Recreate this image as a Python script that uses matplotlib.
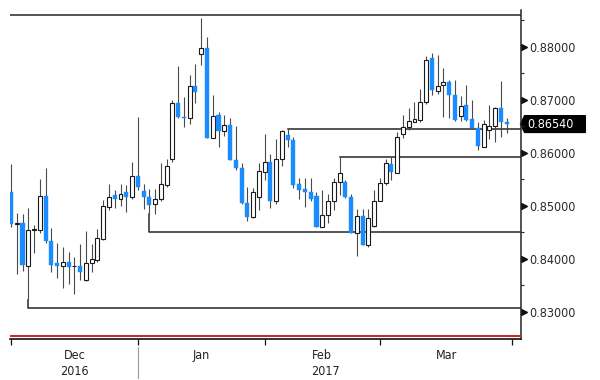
import matplotlib
matplotlib.use("Agg")
import matplotlib.pyplot as plt
import matplotlib.transforms as mtransforms
from matplotlib.patches import Polygon
import pandas as pd

plt.rcParams['font.family'] = ['DejaVu Sans']
plt.rcParams['font.stretch'] = 'condensed'

# daily candles, Dec 2016 - Mar 2017 (weekdays)
dates = pd.bdate_range('2016-12-01', '2017-03-31')

opens = [0.8525, 0.8466, 0.8467, 0.8387, 0.8455, 0.8454, 0.8518, 0.8433, 0.8391, 0.8387,
         0.8394, 0.8386, 0.8387, 0.8360, 0.8391, 0.8398, 0.8437, 0.8498, 0.8520, 0.8512,
         0.8525, 0.8516, 0.8556, 0.8528, 0.8516, 0.8503, 0.8512, 0.8539, 0.8589, 0.8694,
         0.8668, 0.8665, 0.8726, 0.8786, 0.8798, 0.8628, 0.8671, 0.8641, 0.8652, 0.8587,
         0.8572, 0.8506, 0.8478, 0.8516, 0.8564, 0.8583, 0.8508, 0.8588, 0.8633, 0.8623,
         0.8541, 0.8531, 0.8526, 0.8518, 0.8460, 0.8482, 0.8508, 0.8545, 0.8545, 0.8517,
         0.8449, 0.8481, 0.8426, 0.8462, 0.8508, 0.8542, 0.8579, 0.8562, 0.8635, 0.8648,
         0.8658, 0.8661, 0.8695, 0.8778, 0.8717, 0.8727, 0.8734, 0.8709, 0.8669, 0.8690,
         0.8663, 0.8647, 0.8611, 0.8643, 0.8650, 0.8684, 0.8658]
highs = [0.8579, 0.8487, 0.8484, 0.8495, 0.8464, 0.8550, 0.8572, 0.8457, 0.8430, 0.8422,
         0.8413, 0.8403, 0.8428, 0.8452, 0.8428, 0.8456, 0.8511, 0.8540, 0.8530, 0.8540,
         0.8539, 0.8583, 0.8668, 0.8541, 0.8531, 0.8531, 0.8581, 0.8589, 0.8699, 0.8763,
         0.8706, 0.8747, 0.8767, 0.8854, 0.8818, 0.8708, 0.8677, 0.8672, 0.8665, 0.8650,
         0.8580, 0.8535, 0.8533, 0.8580, 0.8635, 0.8598, 0.8625, 0.8643, 0.8645, 0.8630,
         0.8552, 0.8552, 0.8552, 0.8526, 0.8530, 0.8523, 0.8552, 0.8591, 0.8549, 0.8522,
         0.8493, 0.8493, 0.8493, 0.8530, 0.8552, 0.8588, 0.8591, 0.8639, 0.8671, 0.8684,
         0.8696, 0.8720, 0.8782, 0.8788, 0.8784, 0.8759, 0.8737, 0.8737, 0.8707, 0.8728,
         0.8699, 0.8657, 0.8662, 0.8690, 0.8687, 0.8736, 0.8665]
lows = [0.8459, 0.8372, 0.8377, 0.8322, 0.8410, 0.8448, 0.8429, 0.8374, 0.8364, 0.8344,
        0.8352, 0.8333, 0.8360, 0.8358, 0.8375, 0.8394, 0.8435, 0.8491, 0.8495, 0.8499,
        0.8489, 0.8512, 0.8529, 0.8493, 0.8484, 0.8484, 0.8509, 0.8536, 0.8582, 0.8665,
        0.8648, 0.8655, 0.8694, 0.8765, 0.8628, 0.8627, 0.8611, 0.8632, 0.8586, 0.8567,
        0.8504, 0.8472, 0.8476, 0.8492, 0.8548, 0.8495, 0.8504, 0.8575, 0.8611, 0.8533,
        0.8512, 0.8497, 0.8508, 0.8459, 0.8459, 0.8468, 0.8492, 0.8520, 0.8514, 0.8448,
        0.8405, 0.8426, 0.8423, 0.8460, 0.8508, 0.8539, 0.8549, 0.8561, 0.8627, 0.8643,
        0.8657, 0.8657, 0.8692, 0.8709, 0.8711, 0.8668, 0.8665, 0.8660, 0.8660, 0.8660,
        0.8646, 0.8606, 0.8611, 0.8625, 0.8621, 0.8629, 0.8638]
closes = [0.8466, 0.8467, 0.8389, 0.8454, 0.8456, 0.8518, 0.8433, 0.8388, 0.8387, 0.8393,
          0.8385, 0.8386, 0.8374, 0.8392, 0.8399, 0.8439, 0.8499, 0.8517, 0.8512, 0.8522,
          0.8516, 0.8556, 0.8535, 0.8516, 0.8501, 0.8512, 0.8541, 0.8574, 0.8694, 0.8667,
          0.8665, 0.8725, 0.8715, 0.8798, 0.8628, 0.8669, 0.8641, 0.8652, 0.8586, 0.8572,
          0.8506, 0.8479, 0.8525, 0.8565, 0.8583, 0.8508, 0.8588, 0.8640, 0.8623, 0.8539,
          0.8530, 0.8525, 0.8512, 0.8460, 0.8482, 0.8508, 0.8545, 0.8561, 0.8516, 0.8449,
          0.8481, 0.8426, 0.8476, 0.8508, 0.8542, 0.8580, 0.8563, 0.8630, 0.8648, 0.8660,
          0.8663, 0.8695, 0.8775, 0.8718, 0.8725, 0.8734, 0.8709, 0.8662, 0.8688, 0.8662,
          0.8647, 0.8613, 0.8655, 0.8650, 0.8684, 0.8658, 0.8654]

# drawn support / resistance levels: start candle, which end of candle, level
level_start = [3, 24, 48, 57]
level_from = ['low', 'low', 'high', 'high']
level_value = [0.8307, 0.8451, 0.8645, 0.8591]
top_level = 0.8859

y_ticks = [0.83, 0.84, 0.85, 0.86, 0.87, 0.88]
y_minor = [0.835, 0.845, 0.855, 0.865, 0.875, 0.885]

BLUE = '#1a8cff'
DARK = '#262626'

fig = plt.figure(figsize=(6, 3.8), dpi=100)
ax = fig.add_axes([10 / 600, 41 / 380, 510.5 / 600, 329 / 380])

n = len(closes)
xs = list(range(n))

# wicks
ax.vlines(xs, lows, highs, color='#4a4a4a', lw=0.8, zorder=2)

# bodies
for i in xs:
    o, c = opens[i], closes[i]
    bot = min(o, c)
    h = max(abs(c - o), 0.00004)
    if c >= o:
        ax.bar(i, h, bottom=bot, width=0.68, facecolor='white', edgecolor='#1a1a1a',
               linewidth=0.8, zorder=3)
    else:
        ax.bar(i, h, bottom=bot, width=0.7, facecolor=BLUE, edgecolor=BLUE,
               linewidth=0.3, zorder=3)

# level lines
ax.axhline(top_level, color=DARK, lw=1.1, zorder=1)
for s, f, lv in zip(level_start, level_from, level_value):
    anchor = lows[s] if f == 'low' else highs[s]
    ax.plot([s, s, n + 5], [anchor, lv, lv], color=DARK, lw=1.1, zorder=1)

ax.set_xlim(-0.17, 88.39)
ax.set_ylim(0.82485, 0.88692)

# bottom red rule just above the axis line
ax.axhline(0.82485 + 0.0005, color='#d42020', lw=1.4, zorder=4)

for side in ['left', 'top']:
    ax.spines[side].set_visible(False)
ax.spines['right'].set_color(DARK)
ax.spines['right'].set_linewidth(1.1)
ax.spines['bottom'].set_color('#111111')
ax.spines['bottom'].set_linewidth(1.2)

# right price axis
ax.yaxis.tick_right()
ax.set_yticks(y_ticks)
ax.set_yticklabels([f'{v:.5f}' for v in y_ticks], fontsize=9, color='#2a2a2a')
ax.set_yticks(y_minor, minor=True)
ax.tick_params(axis='y', which='major', length=0, pad=6.5)
ax.tick_params(axis='y', which='minor', length=2, width=0.8, color=DARK, direction='out')
trans_y = mtransforms.blended_transform_factory(ax.transAxes, ax.transData)
ax.plot([1.007] * len(y_ticks), y_ticks, linestyle='none', marker='>', markersize=4,
        color='#111111', transform=trans_y, clip_on=False)

# last price tag
last = closes[-1]
hh = 0.00158
tag = Polygon([[1.0, last], [1.008, last + hh], [1.127, last + hh],
               [1.127, last - hh], [1.008, last - hh]], closed=True,
              facecolor='black', edgecolor='black', transform=trans_y, clip_on=False)
ax.add_patch(tag)
ax.text(1.0125, last, f'{last:.5f}', color='white', fontsize=9, va='center', ha='left',
        transform=trans_y)

# date axis
month_pos = [i for i in xs if i == 0 or dates[i].month != dates[i - 1].month] + [n]
ax.set_xticks(month_pos)
ax.set_xticklabels([])
ax.tick_params(axis='x', which='major', length=4, width=0.9, color='#111111', direction='out')
month_mid = [(a + b) / 2 for a, b in zip(month_pos[:-1], month_pos[1:])]
ax.set_xticks(month_mid, minor=True)
ax.set_xticklabels([dates[p].strftime('%b') for p in month_pos[:-1]], minor=True,
                   fontsize=9, color='#222222')
ax.tick_params(axis='x', which='minor', length=0, pad=7)

trans_x = mtransforms.blended_transform_factory(ax.transData, ax.transAxes)
ax.text(month_mid[0], -0.098, '2016', ha='center', va='center', fontsize=9,
        color='#222222', transform=trans_x)
ax.text((month_pos[1] + month_pos[-1]) / 2, -0.098, '2017', ha='center', va='center',
        fontsize=9, color='#222222', transform=trans_x)
ax.plot([month_pos[1], month_pos[1]], [-0.025, -0.118], color='#999999', lw=0.8,
        transform=trans_x, clip_on=False)

fig.savefig('out.png', dpi=100)
